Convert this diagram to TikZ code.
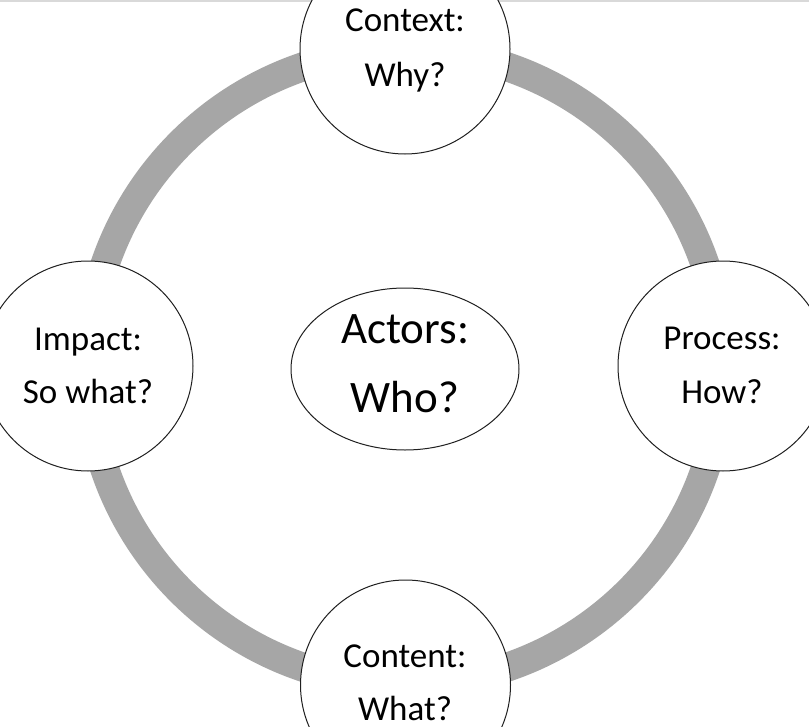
\documentclass[tikz,border=0pt]{standalone}
\usepackage{fontspec}
\setmainfont{Carlito}
\usetikzlibrary{shapes.geometric}
\definecolor{ringgray}{HTML}{A6A6A6}
\definecolor{edgegray}{HTML}{D9D9D9}
\definecolor{outline}{HTML}{202020}
\tikzset{
  ring/.style={draw=ringgray, line width=29bp},
  bubble/.style={circle, draw=outline, fill=white, line width=1bp, minimum size=210bp, inner sep=0pt},
  hub/.style={ellipse, draw=outline, fill=white, line width=1bp, minimum width=228bp, minimum height=162bp, inner sep=0pt},
  lbl/.style={anchor=base, inner sep=0pt, font=\fontsize{35bp}{42bp}\selectfont},
  biglbl/.style={anchor=base, inner sep=0pt, font=\fontsize{45bp}{54bp}\selectfont},
}
\begin{document}
\begin{tikzpicture}[x=1bp, y=-1bp]
\useasboundingbox (0,0) rectangle (809,727);
\clip (0,0) rectangle (809,727);
\fill[white] (0,0) rectangle (809,727);
\coordinate (mid) at (405,367);
\draw[ring] (mid) circle[radius=317bp];
\fill[edgegray] (0,0) rectangle (809,2);
\node[bubble] (context) at (405,49) {};
\node[bubble] (impact) at (88,366) {};
\node[bubble] (process) at (723,366) {};
\node[bubble] (content) at (405.5,685) {};
\node[hub] (actors) at (405,369) {};
\node[lbl] (t1) at (405,32) {Context:};
\node[lbl] (t2) at (405,87) {Why?};
\node[lbl] (t3) at (88,350) {Impact:};
\node[lbl] (t4) at (88,403) {So what?};
\node[lbl] (t5) at (722,349) {Process:};
\node[lbl] (t6) at (722,403) {How?};
\node[lbl] (t7) at (405,667) {Content:};
\node[lbl] (t8) at (405,720) {What?};
\node[biglbl] (t9) at (405,343) {Actors:};
\node[biglbl] (t10) at (405,412) {Who?};
\end{tikzpicture}
\end{document}
